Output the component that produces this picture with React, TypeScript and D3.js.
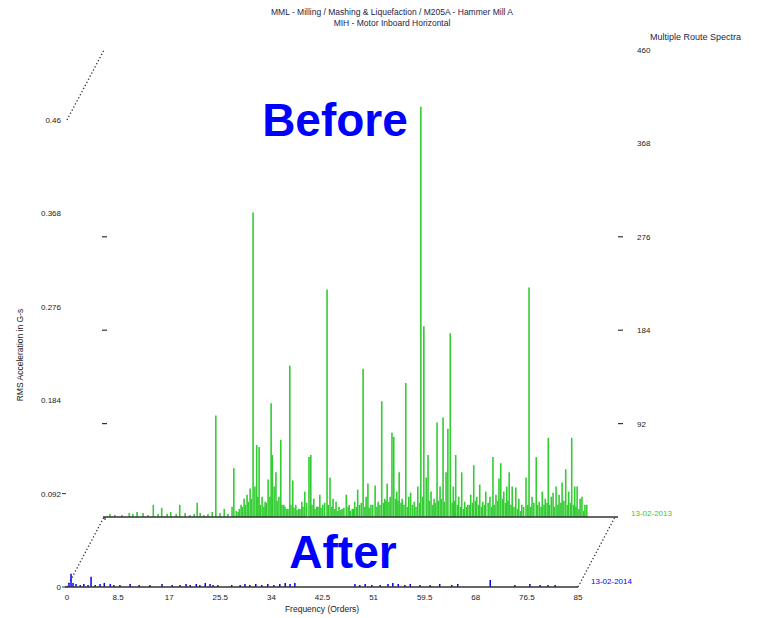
import React from "react";
import * as d3 from "d3";

// ---- Data ----
const titleLine1 = "MML - Milling / Mashing & Liquefaction / M205A - Hammer Mill A";
const titleLine2 = "MIH - Motor Inboard Horizontal";
const sideTitle = "Multiple Route Spectra";
const xAxisTitle = "Frequency (Orders)";
const yAxisTitle = "RMS Acceleration in G-s";
const beforeDate = "13-02-2013";
const afterDate = "13-02-2014";

const xTickValues = [0, 8.5, 17, 25.5, 34, 42.5, 51, 59.5, 68, 76.5, 85];
const xTickLabels = ["0", "8.5", "17", "25.5", "34", "42.5", "51", "59.5", "68", "76.5", "85"];
const yTickValues = [0, 0.092, 0.184, 0.276, 0.368, 0.46];
const yTickLabels = ["0", "0.092", "0.184", "0.276", "0.368", "0.46"];
const rightTickLabels = ["", "92", "184", "276", "368", "460"];

// "Before" spectrum (back trace): orders and RMS amplitudes (G-s)
const beforeOrders = [
  1.0, 1.8, 3.0, 4.2, 4.8, 5.5, 6.5, 7.3, 8.2, 9.0, 9.6, 10.5, 11.1, 12.0, 12.6, 13.5, 14.3, 15.0, 15.5, 16.0,
  16.6, 17.3, 18.0, 18.6, 19.3, 20.0, 20.6, 21.3, 21.6, 22.3, 22.8, 23.3, 23.8, 24.3, 24.8, 25.1, 25.4, 25.8,
  26.3, 26.8, 27.3, 27.8, 28.0, 28.3, 28.6, 29.1, 29.4, 29.9, 30.4, 30.9, 31.4, 31.9, 32.4, 32.9, 33.4, 34.1,
  34.4, 34.9, 35.4, 35.9, 36.4, 37.1, 37.6, 38.1, 38.6, 39.1, 39.6, 40.3, 40.8, 41.3, 41.7, 42.2, 43.1, 43.6,
  43.9, 44.4, 45.1, 45.6, 46.2, 46.7, 47.1, 47.6, 47.9, 48.2, 48.7, 49.1, 49.6, 50.2, 50.7, 51.0, 51.6, 52.2,
  52.7, 53.2, 53.6, 53.9, 54.4, 54.9, 55.4, 55.9, 56.4, 56.9, 57.2, 57.6, 58.1, 58.5, 59.0, 59.5, 60.0, 60.5,
  61.0, 61.5, 62.0, 62.5, 63.0, 63.5, 64.2, 64.7, 65.2, 65.7, 66.0, 66.5, 67.0, 67.4, 67.9, 68.5, 69.0, 69.5,
  70.2, 70.7, 71.2, 71.9, 72.4, 72.9, 73.4, 73.9, 74.4, 74.7, 75.2, 75.7, 76.2, 76.8, 77.3, 77.8, 78.3, 78.7,
  79.2, 79.5, 80.0, 80.3,
];
const beforeAmps = [
  0.003, 0.002, 0.002, 0.004, 0.003, 0.005, 0.004, 0.002, 0.012, 0.003, 0.009, 0.003, 0.005, 0.003, 0.012, 0.004, 0.002, 0.003, 0.014, 0.004,
  0.002, 0.003, 0.005, 0.100, 0.004, 0.008, 0.003, 0.010, 0.048, 0.005, 0.012, 0.018, 0.022, 0.028, 0.300, 0.030, 0.071, 0.069,
  0.020, 0.015, 0.037, 0.112, 0.061, 0.030, 0.044, 0.020, 0.076, 0.012, 0.008, 0.149, 0.036, 0.012, 0.008, 0.015, 0.025, 0.059,
  0.061, 0.018, 0.010, 0.022, 0.012, 0.224, 0.039, 0.018, 0.015, 0.010, 0.008, 0.022, 0.012, 0.008, 0.015, 0.027, 0.146, 0.020,
  0.033, 0.012, 0.031, 0.015, 0.114, 0.018, 0.033, 0.020, 0.083, 0.079, 0.025, 0.044, 0.018, 0.132, 0.020, 0.024, 0.015, 0.030,
  0.404, 0.188, 0.039, 0.061, 0.025, 0.018, 0.093, 0.030, 0.098, 0.044, 0.087, 0.181, 0.030, 0.061, 0.020, 0.044, 0.015, 0.012,
  0.022, 0.051, 0.020, 0.032, 0.015, 0.025, 0.020, 0.059, 0.022, 0.038, 0.053, 0.025, 0.030, 0.044, 0.030, 0.029, 0.018, 0.012,
  0.039, 0.226, 0.020, 0.059, 0.015, 0.025, 0.018, 0.078, 0.020, 0.024, 0.030, 0.022, 0.034, 0.047, 0.025, 0.078, 0.030, 0.030,
  0.018, 0.020, 0.012, 0.012,
];
// low-level floor under the dense part of the "Before" spectrum
const beforeFloorOrders = [
  22.0, 22.5, 23.0, 23.5, 24.0, 24.5, 25.6, 26.0, 26.6, 27.0, 27.6, 28.8, 29.6, 30.1, 30.6, 31.1, 31.6, 32.1, 32.6, 33.1,
  33.7, 34.6, 35.1, 35.6, 36.1, 36.7, 37.3, 37.9, 38.4, 38.9, 39.4, 39.9, 40.6, 41.0, 41.5, 42.0, 42.5, 42.8, 43.4, 44.1,
  44.7, 45.4, 45.9, 46.5, 46.9, 47.4, 48.5, 48.9, 49.4, 49.9, 50.5, 51.3, 51.9, 52.5, 53.0, 54.1, 54.7, 55.1, 55.6, 56.1,
  56.6, 57.9, 58.3, 58.8, 59.3, 59.8, 60.3, 60.8, 61.3, 61.8, 62.3, 62.8, 63.3, 63.9, 64.5, 64.9, 65.5, 66.3, 66.8, 67.2,
  67.7, 68.2, 68.8, 69.3, 69.8, 70.5, 71.0, 71.5, 72.1, 72.7, 73.2, 73.7, 74.1, 74.9, 75.5, 76.0, 76.5, 77.1, 77.6, 78.1,
  78.5, 79.0, 79.8,
];
const beforeFloorAmps = [
  0.006, 0.008, 0.010, 0.012, 0.015, 0.018, 0.020, 0.012, 0.010, 0.014, 0.020, 0.016, 0.012, 0.010, 0.008, 0.012, 0.009, 0.007, 0.008, 0.010,
  0.014, 0.012, 0.008, 0.010, 0.009, 0.014, 0.012, 0.010, 0.008, 0.006, 0.007, 0.009, 0.010, 0.006, 0.008, 0.010, 0.012, 0.014, 0.010, 0.009,
  0.012, 0.010, 0.012, 0.014, 0.016, 0.015, 0.018, 0.016, 0.014, 0.012, 0.010, 0.012, 0.010, 0.014, 0.020, 0.016, 0.012, 0.014, 0.016, 0.018,
  0.015, 0.014, 0.016, 0.012, 0.010, 0.008, 0.010, 0.012, 0.014, 0.016, 0.012, 0.010, 0.012, 0.014, 0.010, 0.012, 0.016, 0.018, 0.014, 0.016,
  0.012, 0.010, 0.008, 0.006, 0.010, 0.012, 0.010, 0.014, 0.012, 0.010, 0.012, 0.014, 0.012, 0.010, 0.012, 0.014, 0.016, 0.012, 0.014, 0.012,
  0.010, 0.008, 0.006,
];

// "After" spectrum (front trace)
const afterOrders = [
  0.33, 0.67, 1.0, 1.5, 2.2, 2.8, 3.5, 4.0, 4.7, 5.5, 6.2, 7.2, 7.8, 8.8, 10.5, 12.0, 13.8, 15.8, 17.5, 18.8,
  19.8, 20.5, 21.5, 22.1, 23.0, 23.8, 24.3, 25.1, 27.4, 28.8, 29.6, 30.4, 31.4, 32.4, 33.4, 34.4, 35.4, 36.3, 37.1, 37.9,
  47.9, 48.7, 49.6, 50.7, 52.1, 53.4, 54.2, 55.1, 56.2, 57.1, 58.7, 60.4, 62.0, 64.0, 65.0, 70.4, 74.5, 77.0, 78.7, 80.0, 81.2,
];
const afterAmps = [
  0.004, 0.013, 0.004, 0.003, 0.002, 0.003, 0.002, 0.010, 0.002, 0.003, 0.004, 0.003, 0.002, 0.002, 0.003, 0.002, 0.002, 0.003, 0.002, 0.002,
  0.003, 0.002, 0.003, 0.002, 0.004, 0.003, 0.002, 0.002, 0.002, 0.002, 0.003, 0.002, 0.003, 0.002, 0.003, 0.002, 0.003, 0.004, 0.003, 0.004,
  0.003, 0.002, 0.003, 0.002, 0.002, 0.003, 0.004, 0.003, 0.002, 0.003, 0.002, 0.002, 0.003, 0.002, 0.003, 0.007, 0.002, 0.003, 0.002, 0.002, 0.002,
];

// ---- Layout ----
const W = 771;
const H = 618;
const DX = 37; // waterfall offset of back trace
const DY = -70;
const FONT = "'Liberation Sans', Arial, sans-serif";
const GREEN = "#33cc33";
const BLUE = "#0000ff";
const TITLE_COLOR = "#24244a";

export default function App() {
  const xFront = d3.scaleLinear().domain([0, 85]).range([67, 578]);
  const xBack = d3.scaleLinear().domain([0, 85]).range([67 + DX, 578 + DX]);
  const yFront = d3.scaleLinear().domain([0, 0.46]).range([587, 120]);
  const yBack = d3.scaleLinear().domain([0, 0.46]).range([587 + DY, 120 + DY]);

  const y0f = yFront(0);
  const y0b = yBack(0);

  const dotted = (x1: number, y1: number, x2: number, y2: number, k: string) => (
    <line key={k} x1={x1} y1={y1} x2={x2} y2={y2} stroke="#333" strokeWidth={1.3} strokeDasharray="1.3,2.2" />
  );

  return (
    <svg width={W} height={H} style={{ position: "absolute", left: 0, top: 0, background: "#fff" }} fontFamily={FONT}>
      <rect x={0} y={0} width={W} height={H} fill="#fff" />

      {/* Titles */}
      <text x={392} y={15} textAnchor="middle" fontSize={8.5} fill={TITLE_COLOR}>{titleLine1}</text>
      <text x={392} y={26} textAnchor="middle" fontSize={8.5} fill={TITLE_COLOR}>{titleLine2}</text>
      <text x={650} y={40} fontSize={9} fill={TITLE_COLOR}>{sideTitle}</text>

      {/* Waterfall frame (dotted connectors) */}
      {dotted(xFront(0), y0f, xBack(0), y0b, "dl")}
      {dotted(xFront(85), y0f, xBack(85), y0b, "dr")}
      {dotted(xFront(0), yFront(0.46), xBack(0), yBack(0.46), "dt")}

      {/* Back trace (Before) */}
      <g stroke={GREEN} strokeWidth={1.6}>
        {beforeFloorOrders.map((o, i) => (
          <line key={"bf" + i} x1={xBack(o)} x2={xBack(o)} y1={y0b} y2={yBack(beforeFloorAmps[i])} />
        ))}
        {beforeOrders.map((o, i) => (
          <line key={"b" + i} x1={xBack(o)} x2={xBack(o)} y1={y0b} y2={yBack(beforeAmps[i])} />
        ))}
      </g>
      <line x1={xBack(0) - 1} x2={xBack(85) + 3} y1={y0b} y2={y0b} stroke="#333" strokeWidth={1.6} />
      <line x1={xBack(0) + 1} x2={xBack(0) + 1} y1={y0b} y2={y0b + 3} stroke="#333" strokeWidth={1.2} />

      {/* Back axis tick dashes (left & right) */}
      {yTickValues.slice(1, 4).map((v, i) => (
        <g key={"bt" + i}>
          <line x1={xBack(0) - 2} x2={xBack(0) + 3} y1={yBack(v)} y2={yBack(v)} stroke="#333" strokeWidth={1.2} />
          <line x1={xBack(85) + 3} x2={xBack(85) + 8} y1={yBack(v)} y2={yBack(v)} stroke="#333" strokeWidth={1.2} />
        </g>
      ))}
      {rightTickLabels.map((t, i) =>
        t ? (
          <text key={"rt" + i} x={xBack(85) + 22} y={yBack(yTickValues[i]) + 3} fontSize={8} fill="#222">{t}</text>
        ) : null
      )}

      {/* Front trace (After) */}
      <g stroke={BLUE} strokeWidth={1.5}>
        {afterOrders.map((o, i) => (
          <line key={"a" + i} x1={xFront(o)} x2={xFront(o)} y1={y0f} y2={yFront(afterAmps[i])} />
        ))}
      </g>
      <line x1={xFront(0) - 2} x2={xFront(85)} y1={y0f} y2={y0f} stroke="#333" strokeWidth={1.6} />

      {/* Front y-axis labels */}
      {yTickValues.map((v, i) => (
        <text key={"yl" + i} x={61} y={yFront(v) + 3} textAnchor="end" fontSize={8} fill="#222">{yTickLabels[i]}</text>
      ))}
      <line x1={62} x2={66} y1={yFront(0)} y2={yFront(0)} stroke="#333" strokeWidth={1} />
      <line x1={62} x2={66} y1={yFront(0.092)} y2={yFront(0.092)} stroke="#333" strokeWidth={1} />

      {/* Front x-axis labels */}
      {xTickValues.map((v, i) => (
        <text key={"xl" + i} x={xFront(v)} y={600} textAnchor="middle" fontSize={8} fill="#222">{xTickLabels[i]}</text>
      ))}
      <text x={322} y={612} textAnchor="middle" fontSize={8.5} fill="#222">{xAxisTitle}</text>
      <text transform="translate(23,355) rotate(-90)" textAnchor="middle" fontSize={8.5} fill="#222">{yAxisTitle}</text>

      {/* Dates */}
      <text x={xBack(85) + 16} y={y0b - 1} fontSize={8} fill={GREEN}>{beforeDate}</text>
      <text x={xFront(85) + 13} y={y0f - 3} fontSize={8} fill={BLUE}>{afterDate}</text>

      {/* Big annotations */}
      <text x={335} y={136} textAnchor="middle" fontSize={46} fontWeight="bold" fill={BLUE}>Before</text>
      <text x={343} y={568} textAnchor="middle" fontSize={46} fontWeight="bold" fill={BLUE}>After</text>
    </svg>
  );
}
